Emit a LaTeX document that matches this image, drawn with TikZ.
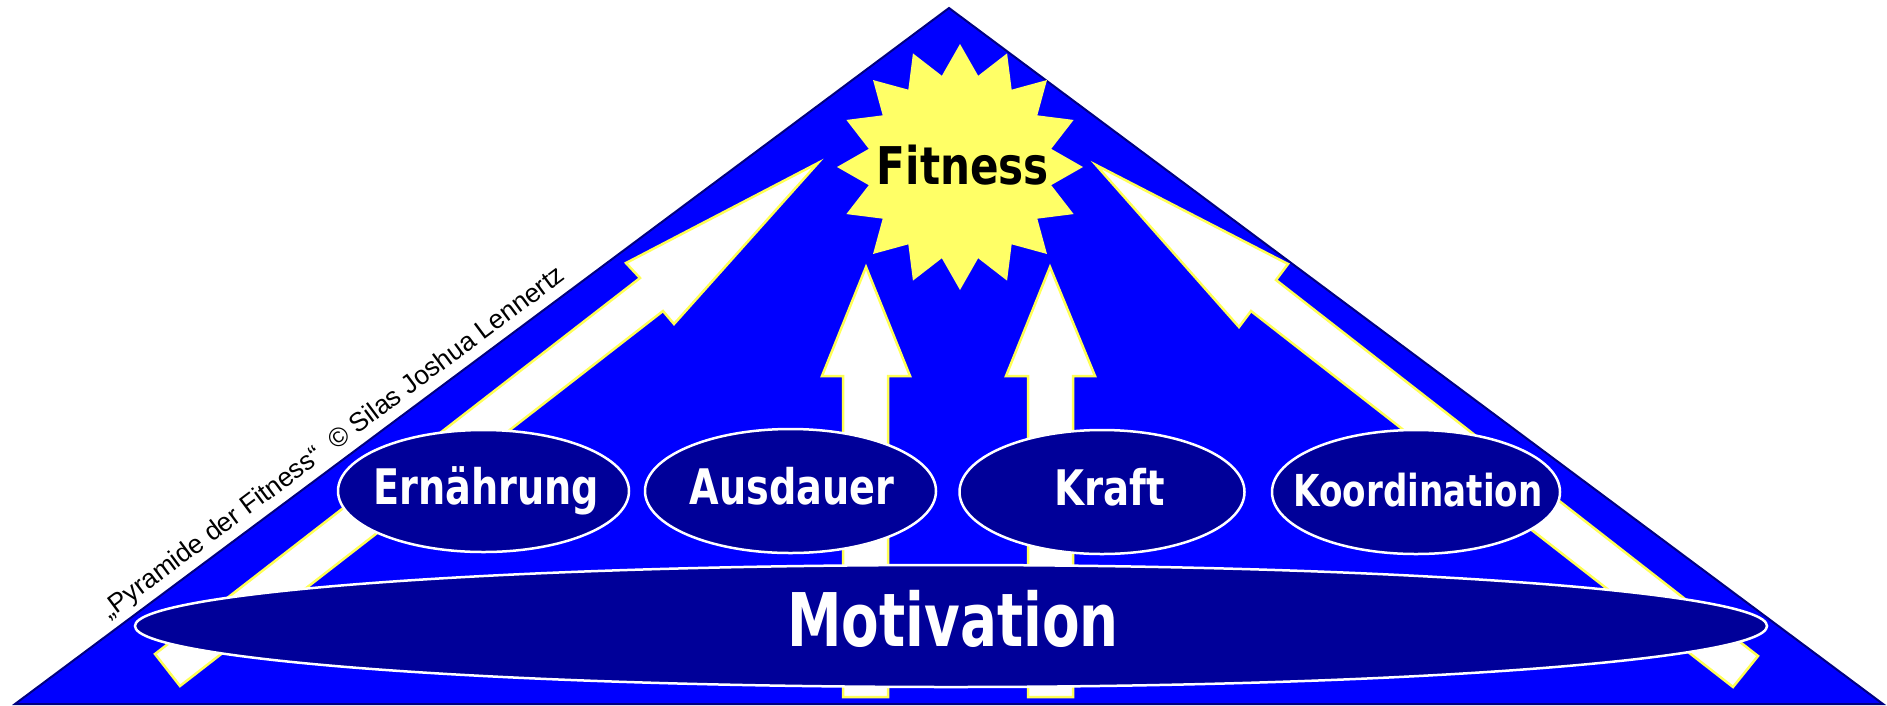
\documentclass[tikz,border=0pt]{standalone}
\usepackage{graphicx}
\usepackage{fontspec}
\setmainfont{Liberation Sans}
\newfontfamily\labfont{DejaVu Sans}
\usetikzlibrary{shapes.geometric}
\definecolor{pyrblue}{HTML}{0000FF}
\definecolor{pyrnavy}{HTML}{000080}
\definecolor{ovalnavy}{HTML}{000099}
\definecolor{sunyellow}{HTML}{FFFF66}
\definecolor{arrowyellow}{HTML}{FFFF55}
\tikzset{
  pyr/.style={fill=pyrblue, draw=pyrnavy, line width=2pt, line join=miter},
  blockarrow/.style={fill=white, draw=arrowyellow, line width=2.5pt, line join=miter},
  oval/.style={ellipse, fill=ovalnavy, draw=white, line width=2.5pt, inner sep=0pt, outer sep=0pt},
  lab/.style={text=white, anchor=base, inner sep=0pt},
  sun/.style={fill=sunyellow},
}
\begin{document}
\begin{tikzpicture}[x=1pt,y=-1pt]
\useasboundingbox (0,0) rectangle (1887,705);
\fill[white] (0,0) rectangle (1887,705);
% pyramid
\coordinate (apex) at (949,8);
\coordinate (bl) at (15,704);
\coordinate (br) at (1883,704);
\path[pyr] (bl) -- (apex) -- (br) -- cycle;
% diagonal arrows
\path[blockarrow] (818,163) -- (626,263) -- (640,278) -- (155,654) -- (180,686) -- (663,311) -- (674,324) -- cycle;
\path[blockarrow] (1096,165) -- (1288,264) -- (1276,280) -- (1758,656) -- (1733,687) -- (1251,311) -- (1239,327) -- cycle;
% vertical arrows
\path[blockarrow] (866,267) -- (910,376) -- (888,376) -- (888,697) -- (843,697) -- (843,376) -- (822,376) -- cycle;
\path[blockarrow] (1050,267) -- (1095,376) -- (1073,376) -- (1073,697) -- (1028,697) -- (1028,376) -- (1006,376) -- cycle;
% sun
\coordinate (suncenter) at (960,167);
\path[sun] (suncenter) +(90:123) \foreach \k in {1,...,31}{ -- +({90+\k*11.25}:{ifthenelse(mod(\k,2)==0,123,93)}) } -- cycle;
\node[anchor=base, inner sep=0pt, text=black, font=\labfont\bfseries\fontsize{52}{60}\selectfont] (fitness) at (963,184) {\scalebox{0.81}[1]{Fitness}};
% ovals
\node[oval, minimum width=291pt, minimum height=122pt] (ern) at (483.5,491) {};
\node[oval, minimum width=291pt, minimum height=124pt] (aus) at (790.5,491) {};
\node[oval, minimum width=285pt, minimum height=124pt] (kra) at (1102,492) {};
\node[oval, minimum width=288pt, minimum height=124pt] (koo) at (1416,492) {};
\node[oval, minimum width=1632pt, minimum height=122pt] (mot) at (951,626) {};
\node[lab, font=\labfont\bfseries\fontsize{49}{55}\selectfont] (ernl) at (486,504) {\scalebox{0.78}[1]{Ernährung}};
\node[lab, font=\labfont\bfseries\fontsize{49}{55}\selectfont] (ausl) at (792,504) {\scalebox{0.78}[1]{Ausdauer}};
\node[lab, font=\labfont\bfseries\fontsize{49}{55}\selectfont] (kral) at (1110,505) {\scalebox{0.79}[1]{Kraft}};
\node[lab, font=\labfont\bfseries\fontsize{44}{50}\selectfont] (kool) at (1418,506) {\scalebox{0.776}[1]{Koordination}};
\node[lab, font=\labfont\bfseries\fontsize{74}{80}\selectfont] (motl) at (953,646) {\scalebox{0.74}[1]{Motivation}};
% copyright
\node[rotate=36.7, anchor=base, inner sep=0pt, font=\fontsize{26.5}{30}\selectfont] (copy) at (338,449) {„Pyramide der Fitness“\ \ © Silas Joshua Lennertz};
\end{tikzpicture}
\end{document}
